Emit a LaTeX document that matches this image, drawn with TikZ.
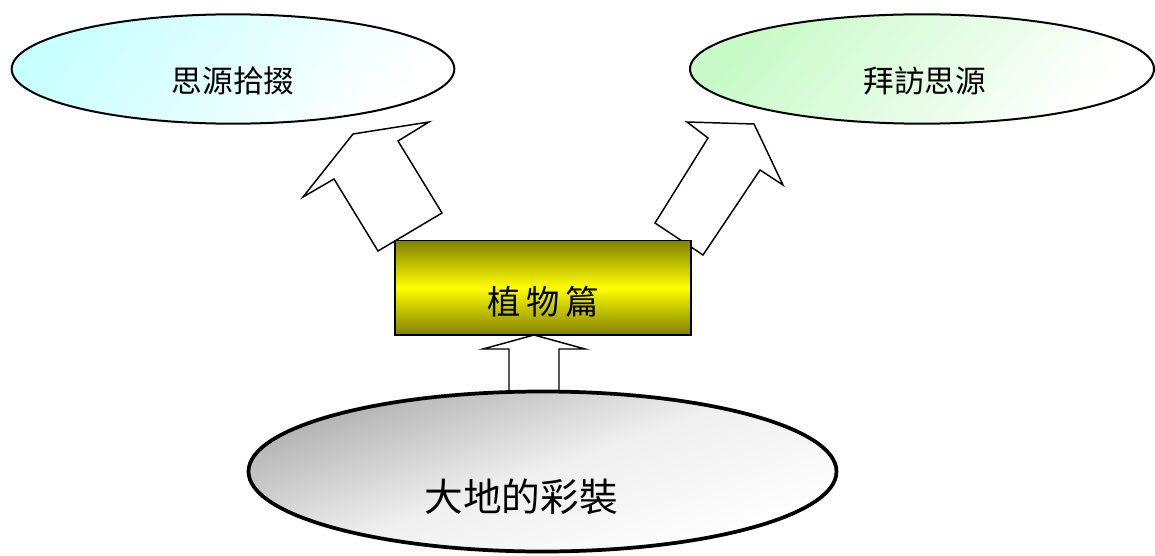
\documentclass[tikz,border=0pt]{standalone}
\usepackage{fontspec}
\newfontfamily\cjk{Noto Sans CJK TC}
\usepackage{xcolor}
\usepackage{tikz}
\usetikzlibrary{positioning,shapes.geometric}

\definecolor{skycyan}{RGB}{200,255,255}
\definecolor{leafgreen}{RGB}{200,250,200}
\definecolor{soilgray}{RGB}{175,175,175}

\tikzset{
    topoval/.style={ellipse, draw=black, line width=1.5pt, minimum width=332pt, minimum height=82pt},
    bottomoval/.style={ellipse, draw=black, line width=2.8pt, minimum width=441pt, minimum height=120pt},
    plantbox/.style={rectangle, draw=black, line width=1pt, minimum width=222pt, minimum height=71pt,
        top color=olive, bottom color=olive, middle color=yellow},
    blockarrow/.style={draw=black, fill=white, line width=1.1pt, line join=miter},
    lbl/.style={font=\cjk\fontsize{23}{23}\selectfont},
}

\begin{document}
\begin{tikzpicture}[x=0.75pt, y=-0.75pt, line cap=round]
        \useasboundingbox (0,0) rectangle (1155,556);

        % Block arrows (drawn first, the shapes cover their ends)
        \draw[blockarrow] (509,392) -- (509,349) -- (483,349) -- (534,335) -- (585,349) -- (559,349) -- (559,392);
        \draw[blockarrow] (378,251) -- (334,179) -- (303,197) -- (353,134) -- (429,122) -- (398,141) -- (442,213) -- cycle;
        \draw[blockarrow] (655,223) -- (708,138) -- (687,122) -- (754,124) -- (783,185) -- (760,170) -- (703,255) -- cycle;

        % Define the ovals and the box
        \node[topoval, top color=skycyan, bottom color=white, shading angle=50] (siyuan) at (233,69) {};
        \node[topoval, minimum width=348pt, top color=leafgreen, bottom color=white, shading angle=50] (baifang) at (922,69) {};
        \node[plantbox] (zhiwu) at (543,287.5) {};
        \node[bottomoval, top color=soilgray, bottom color=white, middle color=gray!12, shading angle=20] (dadi) at (542.5,471.5) {};

        % Labels
        \node[lbl] at ([yshift=-9pt]siyuan.center) {思源拾掇};
        \node[lbl] at ([xshift=2pt, yshift=-9pt]baifang.center) {拜訪思源};
        \node[lbl, font=\cjk\fontsize{25}{25}\selectfont] at ([yshift=-11pt]zhiwu.center) {植\,物\,篇};
        \node[lbl, font=\cjk\fontsize{29}{29}\selectfont] at ([xshift=-16pt, yshift=-19pt]dadi.center) {大地的彩裝};
    \end{tikzpicture}
\end{document}
